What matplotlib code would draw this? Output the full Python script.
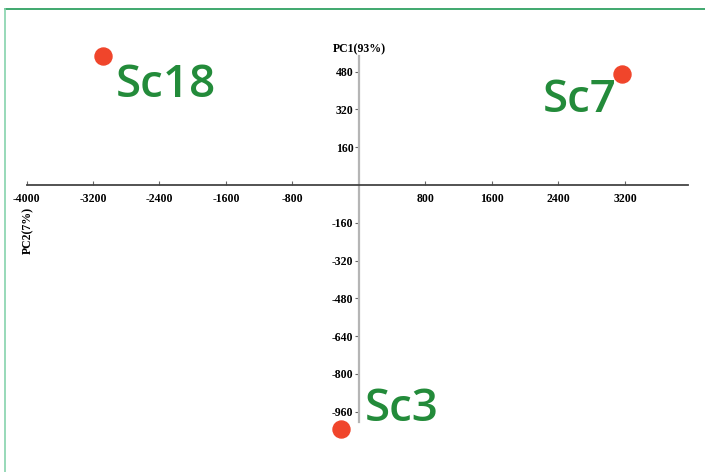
import matplotlib
matplotlib.use("Agg")
import matplotlib.pyplot as plt
from matplotlib.lines import Line2D

# PCA scores
samples = ["Sc18", "Sc7", "Sc3"]
pc1 = [-3080, 3160, -220]
pc2 = [545, 470, -1035]

xticks = [-4000, -3200, -2400, -1600, -800, 800, 1600, 2400, 3200]
yticks = [480, 320, 160, -160, -320, -480, -640, -800, -960]

fig = plt.figure(figsize=(7.05, 4.72), dpi=100)
ax = fig.add_axes([0, 0, 1, 1])

# pixel -> data mapping (origin at px 359,185)
ax.set_xlim(-359 * 800 / 66.5, (705 - 359) * 800 / 66.5)
ax.set_ylim(-(472 - 185) / 0.236, 185 / 0.236)
ax.patch.set_alpha(0)

for s in ["top", "right"]:
    ax.spines[s].set_visible(False)
ax.spines["bottom"].set_position(("data", 0))
ax.spines["left"].set_position(("data", 0))
ax.spines["bottom"].set_bounds(-4000, 3960)
ax.spines["left"].set_bounds(-1005, 545)
ax.spines["bottom"].set_color("#444444")
ax.spines["bottom"].set_linewidth(1.3)
ax.spines["left"].set_color("#b5b5b5")
ax.spines["left"].set_linewidth(1.6)

tick_font = dict(family="Liberation Serif", weight="bold", size=8.5)
ax.set_xticks(xticks)
ax.set_xticklabels([str(v) for v in xticks], **tick_font)
ax.set_yticks(yticks)
ax.set_yticklabels([str(v) for v in yticks], **tick_font)
ax.tick_params(axis="x", direction="in", length=3, width=0.8, color="#666666", pad=6)
ax.tick_params(axis="y", direction="out", length=3, width=0.8, color="#666666", pad=1)

ax.text(0, 548, "PC1(93%)", ha="center", va="bottom", fontsize=8.5,
        family="Liberation Serif", weight="bold")
fig.text(28 / 705, 1 - 230 / 472, "PC2(7%)", rotation=90, ha="center", va="center",
         fontsize=8.5, family="Liberation Serif", weight="bold")

ax.scatter(pc1, pc2, s=150, color="#f0452b", zorder=5, clip_on=False)

offsets = [(9.5, -29), (-57, -27.5), (17, 6)]
for name, x, y, off in zip(samples, pc1, pc2, offsets):
    ax.annotate(name, (x, y), xytext=off, textcoords="offset points",
                ha="left", va="baseline", fontsize=33, family="Open Sans",
                weight="semibold", color="#238b3a")

# frame lines around the figure
fig.add_artist(Line2D([5 / 705, 1], [1 - 9 / 472] * 2, color="#1f9a55", lw=1.2))
fig.add_artist(Line2D([5 / 705] * 2, [0, 1 - 9 / 472], color="#86d3ad", lw=1.2))

fig.savefig("out.png", dpi=100)
